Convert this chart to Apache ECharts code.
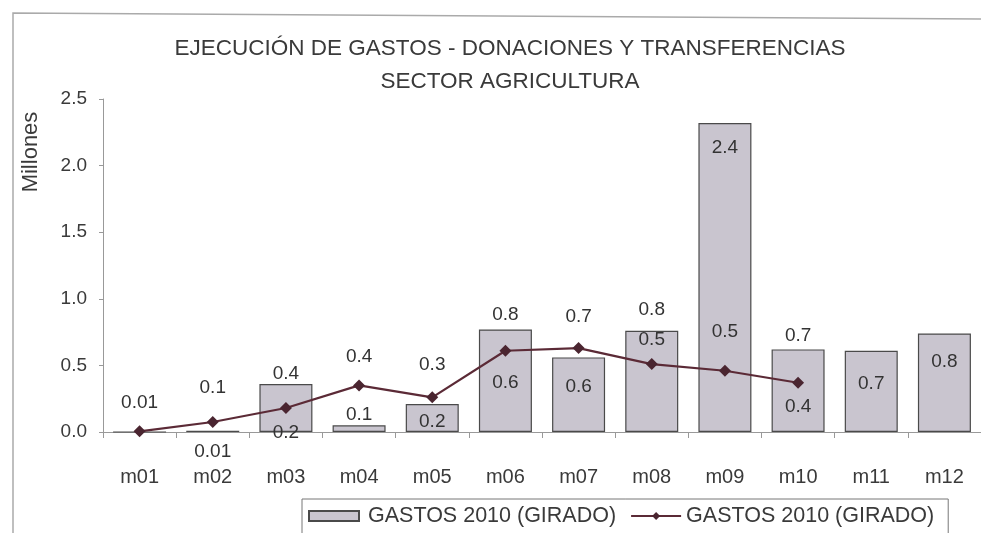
<!DOCTYPE html>
<html>
<head>
<meta charset="utf-8">
<script src="https://cdn.jsdelivr.net/npm/echarts@6/dist/echarts.min.js"></script>
<style>
  html, body { margin: 0; padding: 0; background: #fff; }
  #chart { width: 981px; height: 533px; }
</style>
</head>
<body>
<div id="chart"></div>
<script>
// meses
const MONTHS = ['m01', 'm02', 'm03', 'm04', 'm05', 'm06', 'm07', 'm08', 'm09', 'm10', 'm11', 'm12'];

const BAR_VALUES = [0, 0.01, 0.36, 0.05, 0.21, 0.77, 0.56, 0.76, 2.32, 0.62, 0.61, 0.74];
const BAR_LABELS = ['', '0.01', '0.4', '0.1', '0.2', '0.8', '0.6', '0.8', '2.4', '0.7', '0.7', '0.8'];

// línea (solo hasta m10)
const LINE_VALUES = [0.005, 0.075, 0.18, 0.35, 0.26, 0.61, 0.63, 0.51, 0.46, 0.37];
const LINE_LABELS = ['0.01', '0.1', '0.2', '0.4', '0.3', '0.6', '0.7', '0.5', '0.5', '0.4'];

const Y_TICKS = [0, 0.5, 1.0, 1.5, 2.0, 2.5];

const SERIES_NAME = 'GASTOS 2010 (GIRADO)';

// posiciones de etiquetas (estilo, no datos)
const barLabelPos = [
  null,
  { position: 'bottom', distance: 10 },
  { position: 'top', distance: 1 },
  { position: 'top', distance: 1 },
  { position: 'insideBottom', distance: 1 },
  { position: 'top', distance: 5 },
  { position: 'inside', offset: [0, -8] },
  { position: 'top', distance: 12 },
  { position: 'insideTop', distance: 15 },
  { position: 'top', distance: 4 },
  { position: 'inside', offset: [0, -8] },
  { position: 'insideTop', distance: 19 }
];
const lineLabelPos = [
  { position: 'top', distance: 13 },
  { position: 'top', distance: 19 },
  { position: 'bottom', distance: 9 },
  { position: 'top', distance: 13 },
  { position: 'top', distance: 17 },
  { position: 'bottom', distance: 17 },
  { position: 'top', distance: 16 },
  { position: 'top', distance: 9 },
  { position: 'top', distance: 23 },
  { position: 'bottom', distance: 9 }
];

const FONT = 'Liberation Sans, Arial, sans-serif';
const TEXT = '#3a3a3a';
const chart = echarts.init(document.getElementById('chart'));

const barData = BAR_VALUES.map((v, i) => ({
  value: v,
  label: Object.assign({ show: !!BAR_LABELS[i], formatter: BAR_LABELS[i] }, barLabelPos[i] || {})
}));
const lineData = LINE_VALUES.map((v, i) => ({
  value: v,
  label: Object.assign({ show: true, formatter: LINE_LABELS[i] }, lineLabelPos[i])
}));

const option = {
  backgroundColor: '#fff',
  animation: false,
  title: {
    text: 'EJECUCIÓN DE GASTOS - DONACIONES Y TRANSFERENCIAS\nSECTOR AGRICULTURA',
    left: 505,
    textAlign: 'center',
    top: 27,
    textStyle: { fontFamily: FONT, fontSize: 22.5, fontWeight: 'normal', color: TEXT, lineHeight: 33 }
  },
  legend: {
    top: 499,
    left: 302,
    itemGap: 8,
    itemWidth: 50,
    itemHeight: 10,
    padding: [6, 14, 8, 6],
    borderColor: '#777',
    borderWidth: 1,
    textStyle: { fontFamily: FONT, fontSize: 21.5, color: TEXT, padding: [0, 0, 0, 4] },
    data: [
      { name: SERIES_NAME + ' ', icon: 'rect' },
      { name: SERIES_NAME, textStyle: { padding: 0 } }
    ]
  },
  grid: { left: 103, right: -11, top: 99, bottom: 101, containLabel: false },
  xAxis: {
    type: 'category',
    data: MONTHS,
    axisLine: { lineStyle: { color: '#999' } },
    axisTick: { show: true, length: 6, lineStyle: { color: '#999' } },
    axisLabel: { fontFamily: FONT, fontSize: 20, color: TEXT, margin: 35 }
  },
  yAxis: {
    type: 'value',
    min: Y_TICKS[0],
    max: Y_TICKS[Y_TICKS.length - 1],
    interval: 0.5,
    axisLine: { show: true, lineStyle: { color: '#999' } },
    axisTick: { show: true, length: 4, lineStyle: { color: '#999' } },
    splitLine: { show: false },
    axisLabel: { fontFamily: FONT, fontSize: 19, color: TEXT, margin: 16, formatter: v => v.toFixed(1) }
  },
  series: [
    {
      name: SERIES_NAME + ' ',
      type: 'bar',
      data: barData,
      barWidth: 53,
      itemStyle: { color: '#c9c5cf', borderColor: '#4a4a4a', borderWidth: 1.2 },
      label: { fontFamily: FONT, fontSize: 19, color: '#333' },
      z: 2
    },
    {
      name: SERIES_NAME,
      type: 'line',
      data: lineData,
      symbol: 'diamond',
      symbolSize: 12,
      lineStyle: { color: '#5b2a36', width: 2.2 },
      itemStyle: { color: '#4a2530' },
      label: { fontFamily: FONT, fontSize: 19, color: '#333' },
      z: 3
    }
  ],
  graphic: [
    {
      type: 'polyline',
      shape: { points: [[13, 533], [13, 13], [981, 19]] },
      style: { stroke: '#aaa', fill: null, lineWidth: 1.5 },
      silent: true
    },
    {
      type: 'text',
      x: 31,
      y: 152,
      rotation: Math.PI / 2,
      style: { text: 'Millones', fill: TEXT, font: '22px ' + FONT, align: 'center', verticalAlign: 'middle' },
      silent: true
    }
  ]
};

chart.setOption(option);
window.addEventListener('resize', () => chart.resize());
</script>
</body>
</html>
